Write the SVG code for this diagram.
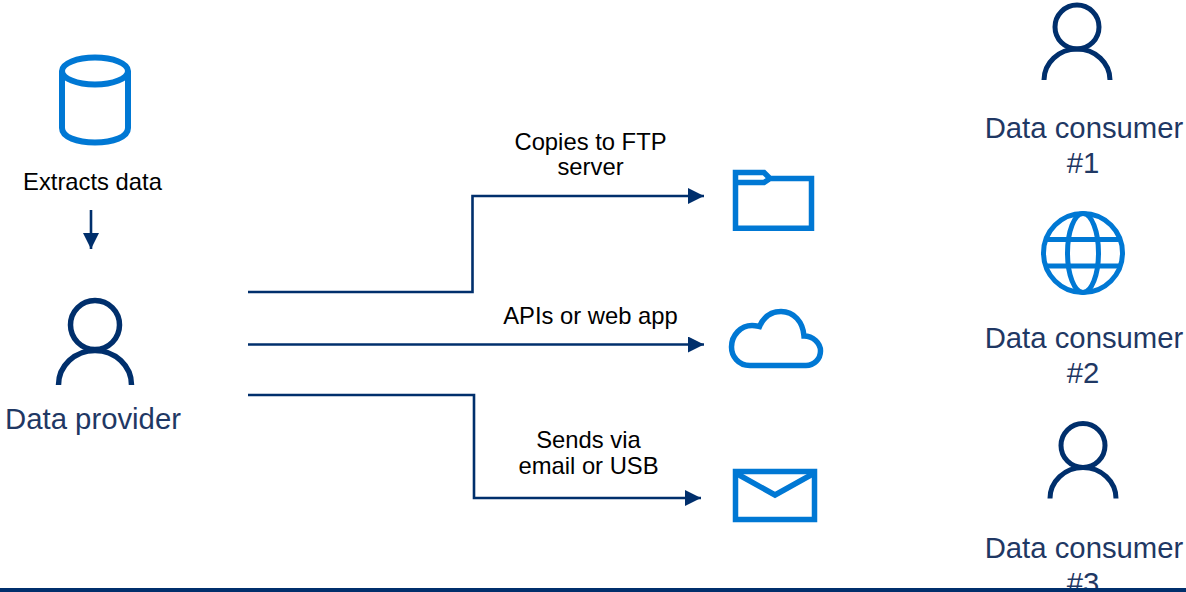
<svg xmlns="http://www.w3.org/2000/svg" width="1186" height="592" viewBox="0 0 1186 592">
<style>
.t{font-family:"Liberation Sans",Arial,sans-serif;text-anchor:middle}
.s{font-size:23.800px;fill:#000}
.l{font-size:29.300px;fill:#1f3864}
.ic{fill:none;stroke:#0078d4;stroke-width:5.500}
.g{fill:none;stroke:#0078d4;stroke-width:5}
.p{fill:none;stroke:#002f6c;stroke-width:5}
.c{fill:none;stroke:#002f6c;stroke-width:2.600}
</style>
<defs>
<marker id="a" markerUnits="userSpaceOnUse" markerWidth="16" markerHeight="16" refX="16" refY="8" orient="auto"><path d="M0 0L16 8L0 16Z" fill="#002f6c"/></marker>
<g id="person"><circle cx="0" cy="-53" r="22" class="p"/><path d="M-33 0A33 31 0 0 1 33 0" class="p"/></g>
</defs>
<rect width="1186" height="592" fill="#fff"/>
<g id="connectors">
<path class="c" d="M91 210V249" marker-end="url(#a)"/>
<path class="c" d="M248 292H472.500V196H704" marker-end="url(#a)"/>
<path class="c" d="M248 344.500H704" marker-end="url(#a)"/>
<path class="c" d="M248 395H474V498H701" marker-end="url(#a)"/>
</g>
<g id="database"><ellipse cx="95" cy="71" rx="33" ry="13.500" class="ic" style="stroke-width:6"/><path d="M62 71V128C62 137 77 142.500 95 142.500S128 137 128 128V71" class="ic" style="stroke-width:6"/></g>
<g id="extracts-label"><text class="t s" x="92.500" y="190">Extracts data</text></g>
<g id="data-provider"><g transform="translate(95,385)"><circle cx="0" cy="-60" r="24.500" class="p" style="stroke-width:5.500"/><path d="M-36.500 0A36.500 34.500 0 0 1 36.500 0" class="p" style="stroke-width:5.500"/></g><text class="t l" x="93" y="429">Data provider</text></g>
<g id="ftp-label"><text class="t s" x="590.500" y="150">Copies to FTP</text><text class="t s" x="590.500" y="175">server</text></g>
<g id="api-label"><text class="t s" x="590.500" y="324">APIs or web app</text></g>
<g id="email-label"><text class="t s" x="588.500" y="448">Sends via</text><text class="t s" x="588.500" y="474">email or USB</text></g>
<g id="folder"><path class="ic" d="M735.500 228.200V172.500H764L770 178.500H811.500V228.200ZM735.500 182.500H764L770 178.500"/></g>
<g id="cloud"><path class="ic" d="M750 365.500C738 365.500 731.500 356 731.500 347C731.500 335 741 325.500 752 325.500C755 325.500 757 326 759.500 326.500C764 316.500 772 311.500 781 311.500C794 311.500 803 322 804 336C813 336 820.500 343 820.500 351C820.500 359 814 365.500 806 365.500Z"/></g>
<g id="envelope"><rect x="735.500" y="471.500" width="79" height="48" class="ic"/><path class="ic" d="M735.500 473L775 495L814.500 473"/></g>
<g id="consumer-1"><use href="#person" transform="translate(1077,80)"/><text class="t l" x="1084" y="138">Data consumer</text><text class="t l" x="1083" y="173">#1</text></g>
<g id="globe"><circle cx="1083" cy="253" r="39.500" class="g"/><ellipse cx="1083" cy="253" rx="15.500" ry="39.500" class="g"/><path d="M1046 239.500H1120M1046 266H1120" class="g"/></g>
<g id="consumer-2"><text class="t l" x="1084" y="348">Data consumer</text><text class="t l" x="1083" y="383">#2</text></g>
<g id="consumer-3"><use href="#person" transform="translate(1083,498.500)"/><text class="t l" x="1084" y="558">Data consumer</text><text class="t l" x="1083" y="593">#3</text></g>
<rect id="bottom-bar" x="0" y="588" width="1186" height="4" fill="#002f6c"/>
</svg>
